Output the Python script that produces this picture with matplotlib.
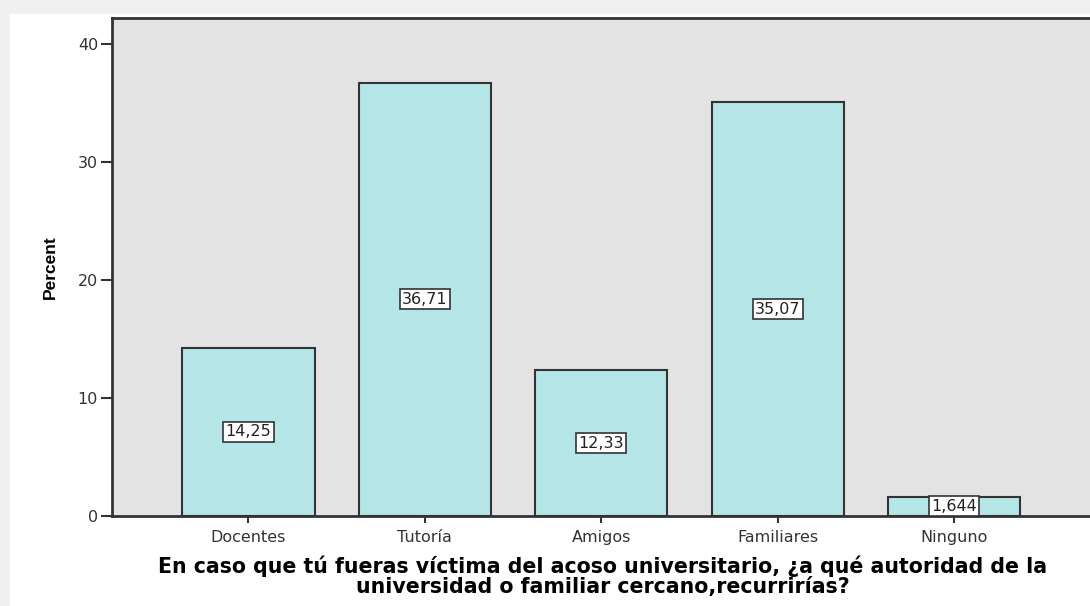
import matplotlib.pyplot as plt
from matplotlib.patches import Rectangle

# Data
categories = ["Docentes", "Tutoría", "Amigos", "Familiares", "Ninguno"]
percent = [14.25, 36.71, 12.33, 35.07, 1.644]
value_labels = ["14,25", "36,71", "12,33", "35,07", "1,644"]
y_ticks = [0, 10, 20, 30, 40]

plt.rcParams['font.family'] = ['DejaVu Sans']

fig = plt.figure(figsize=(10.9, 6.06), dpi=100)
fig.patch.set_facecolor('white')

# light frame shadow along top and left edges
fig.patches.append(Rectangle((0, 0), 1, 1, transform=fig.transFigure,
                             facecolor='#f0f0f0', edgecolor='none', zorder=-2))
fig.patches.append(Rectangle((10 / 1090, 0), 1, (606 - 14) / 606, transform=fig.transFigure,
                             facecolor='white', edgecolor='none', zorder=-1))

ax = fig.add_axes([112 / 1090, 90 / 606, 1 - 112 / 1090, 498 / 606])
ax.set_facecolor('#e3e3e3')

x = list(range(len(categories)))
ax.bar(x, percent, width=0.75, color='#b4e6e7', edgecolor='#333333', linewidth=1.5, zorder=2)

for xi, v, lab in zip(x, percent, value_labels):
    ax.text(xi, v / 2, lab, ha='center', va='center', fontsize=11.5, color='#222222', zorder=3,
            bbox=dict(boxstyle='square,pad=0.15', facecolor='white', edgecolor='#333333', linewidth=1.2))

ax.set_xlim(-0.773, 4.77)
ax.set_ylim(0, 42.2)
ax.set_yticks(y_ticks)
ax.set_xticks(x)
ax.set_xticklabels(categories, fontsize=11.5, color='#333333')
ax.tick_params(axis='y', labelsize=11.5, colors='#333333', length=8, width=1.5, direction='out', pad=2)
ax.tick_params(axis='x', length=5, width=1.5, direction='out', colors='#333333', pad=5)

for side in ['left', 'top', 'bottom']:
    ax.spines[side].set_color('#333333')
    ax.spines[side].set_linewidth(2)
ax.spines['right'].set_visible(False)

ax.set_ylabel('Percent', fontsize=12.5, fontweight='bold', family=['Liberation Sans Narrow', 'Liberation Sans'],
              labelpad=14)
ax.set_xlabel('En caso que tú fueras víctima del acoso universitario, ¿a qué autoridad de la\n'
              'universidad o familiar cercano,recurrirías?',
              fontsize=14.8, fontweight='bold', linespacing=1.0)
ax.xaxis.set_label_coords((603 - 112) / (1090 - 112), -0.08)

fig.savefig('out.png', dpi=100)
